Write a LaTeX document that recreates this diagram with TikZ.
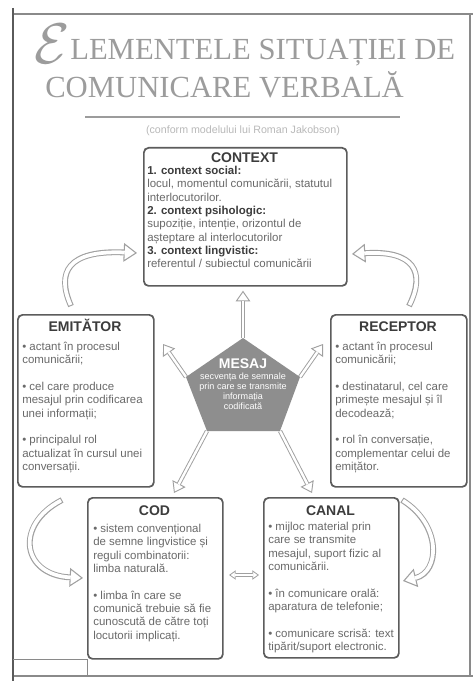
\documentclass[tikz,border=0pt]{standalone}
\usepackage{fontspec}
\usepackage{graphicx}
\setmainfont{Liberation Sans}
\newfontfamily\titleserif{Liberation Serif}
\usetikzlibrary{arrows.meta}
\definecolor{boxline}{HTML}{5C5C5C}
\definecolor{bodytxt}{HTML}{6A6A6A}
\definecolor{headtxt}{HTML}{3C3C3C}
\definecolor{arrowc}{HTML}{A0A0A0}
\definecolor{pentc}{HTML}{8E8E8E}
\definecolor{titlec}{HTML}{9C9C9C}
\definecolor{framec}{HTML}{8A8A8A}
\definecolor{framedark}{HTML}{5A5A5A}
\tikzset{
  box/.style={draw=boxline, line width=1.3pt, rounded corners=3.5pt, anchor=north west, inner sep=0pt, fill=white},
  boxtitle/.style={font=\fontsize{10.5}{12}\selectfont\bfseries, text=headtxt, anchor=base, inner sep=0pt},
  boxbody/.style={font=\fontsize{8.6}{10}\selectfont, text=bodytxt, anchor=north west, align=left, inner sep=0pt},
  titlefont/.style={font=\titleserif\fontsize{23}{25}\selectfont, text=titlec, inner sep=0pt},
  hollowout/.style={draw=arrowc, line width=4.4pt, -{Triangle[fill=white, length=10pt, width=14pt, line width=0.8pt]}},
  hollowin/.style={draw=white, line width=2.8pt, shorten >=9.2pt, shorten <=0.8pt},
  smallout/.style={draw=arrowc, line width=3.2pt, -{Triangle[fill=white, length=8pt, width=11pt, line width=0.7pt]}},
  smallin/.style={draw=white, line width=1.8pt, shorten >=7.4pt},
  dblout/.style={draw=arrowc, line width=2.4pt, {Triangle[fill=white, length=5pt, width=7pt, line width=0.6pt]}-{Triangle[fill=white, length=5pt, width=7pt, line width=0.6pt]}},
  dblin/.style={draw=white, line width=1.2pt, shorten >=4.6pt, shorten <=4.6pt},
}
\begin{document}
\begin{tikzpicture}[x=0.75pt, y=-0.75pt]
\useasboundingbox (0,0) rectangle (473,681);
\fill[white] (0,0) rectangle (473,681);
% frame
\draw[framec, line width=1.2pt] (13,14) -- (473,14);
\draw[framec, line width=0.8pt] (13,676) -- (473,676);
\draw[framec, line width=0.8pt] (470,14) -- (470,676);
\draw[framedark, line width=2.2pt] (13,8) -- (13,681);
\draw[framec, line width=0.6pt] (13,659) -- (87,659) -- (87,676);
% title
\node[anchor=base west, inner sep=0pt, text=titlec] (bigE) at (34,64) {\scalebox{4.3}{$\mathcal{E}$}};
\node[titlefont, anchor=base west] (t1) at (70,60) {LEMENTELE SITUAȚIEI DE};
\node[titlefont, anchor=base west] (t2) at (45,98) {COMUNICARE VERBALĂ};
\draw[titlec, line width=0.8pt] (85,117) -- (400,117);
\node[font=\fontsize{8}{9}\selectfont, text=gray!55, inner sep=0pt] (sub) at (243,131) {(conform modelului lui Roman Jakobson)};

% boxes
\node[box, minimum width=152.25pt, minimum height=103.5pt] (ctx) at (143,147) {};
\node[box, minimum width=102pt, minimum height=129pt] (emit) at (17,314) {};
\node[box, minimum width=102pt, minimum height=129pt] (rec) at (330,314) {};
\node[box, minimum width=101.25pt, minimum height=120.75pt] (cod) at (87,497) {};
\node[box, minimum width=101.25pt, minimum height=120pt] (can) at (263,497) {};

% titles
\node[boxtitle] (ctxT) at (244.5,162) {CONTEXT};
\node[boxtitle] (emitT) at (85,331) {EMITĂTOR};
\node[boxtitle] (recT) at (398,331) {RECEPTOR};
\node[boxtitle] (codT) at (154.5,515) {COD};
\node[boxtitle] (canT) at (330.5,515) {CANAL};

% bodies
\node[boxbody] (ctxB) at (147,166) {{\bfseries\color{headtxt}1. context social:}\\
locul, momentul comunicării, statutul\\
interlocutorilor.\\
{\bfseries\color{headtxt}2. context psihologic:}\\
supoziție, intenție, orizontul de\\
așteptare al interlocutorilor\\
{\bfseries\color{headtxt}3. context lingvistic:}\\
referentul / subiectul comunicării};

\node[boxbody] (emitB) at (22,342) {• actant în procesul\\
comunicării;\\[10pt]
• cel care produce\\
mesajul prin codificarea\\
unei informații;\\[10pt]
• principalul rol\\
actualizat în cursul unei\\
conversații.};

\node[boxbody] (recB) at (335,342) {• actant în procesul\\
comunicării;\\[10pt]
• destinatarul, cel care\\
primește mesajul și îl\\
decodează;\\[10pt]
• rol în conversație,\\
complementar celui de\\
emițător.};

\node[boxbody] (codB) at (93,524) {• sistem convențional\\
de semne lingvistice și\\
reguli combinatorii:\\
limba naturală.\\[10pt]
• limba în care se\\
comunică trebuie să fie\\
cunoscută de către toți\\
locutorii implicați.};

\node[boxbody] (canB) at (268,522) {• mijloc material prin\\
care se transmite\\
mesajul, suport fizic al\\
comunicării.\\[10pt]
• în comunicare orală:\\
aparatura de telefonie;\\[10pt]
• comunicare scrisă: text\\
tipărit/suport electronic.};

% pentagon coordinates
\coordinate (pT) at (243,338);
\coordinate (pL) at (186,377);
\coordinate (pR) at (300,377);
\coordinate (pBL) at (207,431);
\coordinate (pBR) at (280,431);
\coordinate (aUL) at (163,344);
\coordinate (aUR) at (323,344);
\coordinate (aDL) at (174,493);
\coordinate (aDR) at (312,493);
\coordinate (aUp) at ([yshift=-3pt]ctx.south);

% straight arrows from the message
\draw[smallout] (pT) -- (pT |- aUp);
\draw[smallin] (pT) -- (pT |- aUp);
\draw[smallout] (pL) -- (aUL);
\draw[smallin] (pL) -- (aUL);
\draw[smallout] (pR) -- (aUR);
\draw[smallin] (pR) -- (aUR);
\draw[smallout] (pBL) -- (aDL);
\draw[smallin] (pBL) -- (aDL);
\draw[smallout] (pBR) -- (aDR);
\draw[smallin] (pBR) -- (aDR);

% pentagon
\fill[pentc] (pT) -- (pR) -- (pBR) -- (pBL) -- (pL) -- cycle;
\node[font=\fontsize{6.8}{7.6}\selectfont, text=white, align=center, inner sep=0pt, anchor=north] (mesaj) at (243,358)
 {{\fontsize{10.5}{11}\selectfont\bfseries MESAJ}\\[1pt]
  secvența de semnale\\
  prin care se transmite\\
  informația\\
  codificată};

% double arrow COD <-> CANAL
\coordinate (dA) at ([xshift=4pt]cod.east |- 0,575);
\coordinate (dB) at ([xshift=-3pt]can.west |- 0,575);
\draw[dblout] (dA) -- (dB);
\draw[dblin] (dA) -- (dB);

% curved arrows
\coordinate (tlS) at (71,306);
\coordinate (tlE) at (137,253);
\draw[hollowout] (tlS) .. controls (56,272) and (68,250) .. (tlE);
\draw[hollowin] (tlS) .. controls (56,272) and (68,250) .. (tlE);

\coordinate (trS) at (409,306);
\coordinate (trE) at (352,254);
\draw[hollowout] (trS) .. controls (426,272) and (414,250) .. (trE);
\draw[hollowin] (trS) .. controls (426,272) and (414,250) .. (trE);

\coordinate (blS) at (62,500);
\coordinate (blE) at (83,578);
\draw[hollowout] (blS) .. controls (14,525) and (22,575) .. (blE);
\draw[hollowin] (blS) .. controls (14,525) and (22,575) .. (blE);

\coordinate (brS) at (402,500);
\coordinate (brE) at (403,581);
\draw[hollowout] (brS) .. controls (442,525) and (440,572) .. (brE);
\draw[hollowin] (brS) .. controls (442,525) and (440,572) .. (brE);
\end{tikzpicture}
\end{document}
